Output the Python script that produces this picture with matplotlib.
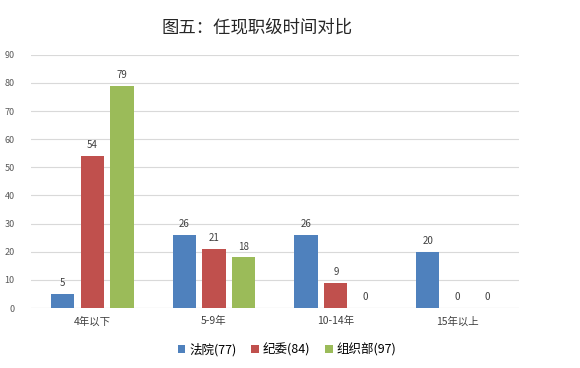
import numpy as np
import matplotlib
matplotlib.use('Agg')
import matplotlib.pyplot as plt

plt.rcParams['font.family'] = ['Noto Sans CJK SC', 'DejaVu Sans']

# 数据
categories = ['4年以下', '5-9年', '10-14年', '15年以上']
series_names = ['法院(77)', '纪委(84)', '组织部(97)']
fayuan = [5, 26, 26, 20]
jiwei = [54, 21, 9, 0]
zuzhibu = [79, 18, 0, 0]
colors = ['#4F81BD', '#C0504D', '#9BBB59']

fig = plt.figure(figsize=(5.8, 3.68), dpi=100)
ax = fig.add_axes([0.054, 0.163, 0.84, 0.688])

x = np.arange(len(categories))
w = 0.19
step = 0.245
for i, (vals, name, c) in enumerate(zip([fayuan, jiwei, zuzhibu], series_names, colors)):
    pos = x + (i - 1) * step
    ax.bar(pos, vals, width=w, color=c, label=name, zorder=3)
    for p, v in zip(pos, vals):
        ax.text(p, v + 2, str(v), ha='center', va='bottom', fontsize=7, color='#404040')

ax.set_xlim(-0.5, 3.5)
ax.set_ylim(0, 90)
ax.set_yticks(range(0, 91, 10))
ax.set_xticks(x)
ax.set_xticklabels(categories, fontsize=7.5, color='#404040')
ax.tick_params(axis='y', labelsize=6.5, labelcolor='#595959', length=0, pad=12)
ax.tick_params(axis='x', length=0, pad=6)
ax.grid(axis='y', color='#D9D9D9', linewidth=0.8, zorder=0)
for s in ax.spines.values():
    s.set_visible(False)
ax.axhline(0, color='#D9D9D9', linewidth=0.8, zorder=1)

fig.text(0.443, 0.925, '图五：任现职级时间对比', fontsize=12.5, color='#262626',
         ha='center', va='center')

fig.legend(loc='lower center', bbox_to_anchor=(0.495, 0.0), ncol=3, frameon=False,
           fontsize=9, handlelength=0.6, handleheight=0.6, handletextpad=0.3,
           columnspacing=1.2)

fig.savefig('out.png', dpi=100)
